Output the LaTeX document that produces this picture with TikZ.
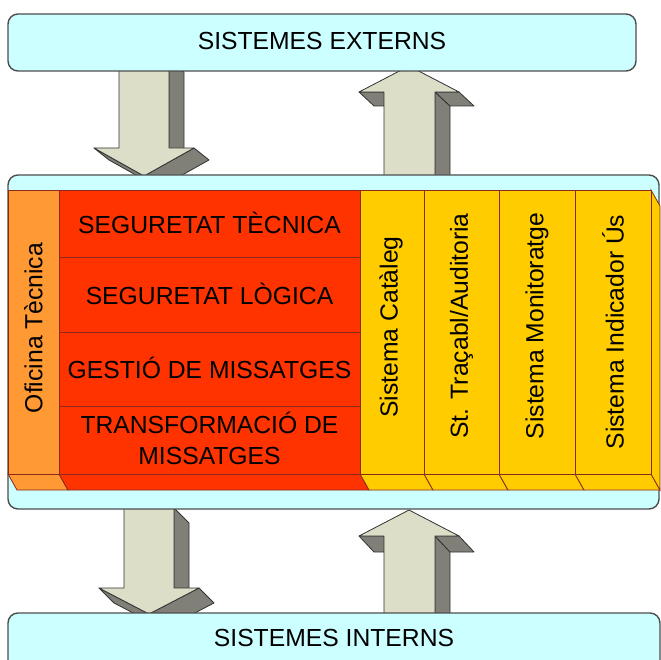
\documentclass[tikz,border=0pt]{standalone}
\usepackage{fontspec}
\setmainfont{Liberation Sans}
\definecolor{cyanbg}{HTML}{CCFFFF}
\definecolor{boxline}{HTML}{4D4D4D}
\definecolor{orng}{HTML}{FF9933}
\definecolor{redb}{HTML}{FF3300}
\definecolor{yel}{HTML}{FFCC00}
\definecolor{colline}{HTML}{8B2A1A}
\definecolor{arrfront}{HTML}{DCDEC8}
\definecolor{arrside}{HTML}{808078}
\definecolor{arrline}{HTML}{333333}
\begin{document}
\begin{tikzpicture}[x=1pt,y=-1pt,
  sysbox/.style={draw=boxline, line width=1.4pt, fill=cyanbg, rounded corners=10pt, inner sep=0pt},
  lbl/.style={font=\fontsize{24.7}{31}\selectfont, text=black, align=center, inner sep=0pt},
  cell/.style={draw=colline, line width=0.8pt},
  afront/.style={fill=arrfront, draw=arrline, line width=0.8pt, line join=round},
  aside/.style={fill=arrside, draw=arrline, line width=0.8pt, line join=round},
]
\useasboundingbox (0,0) rectangle (661,660);

% ---- top down arrow (external -> platform)
\draw[aside] (169,60) -- (184,72) -- (184,160) -- (169,148) -- cycle;
\draw[aside] (94,148) -- (109,160) -- (159,188) -- (144,176) -- cycle;
\draw[aside] (194,148) -- (209,160) -- (159,188) -- (144,176) -- cycle;
\draw[afront] (119,60) -- (169,60) -- (169,148) -- (194,148) -- (144,176) -- (94,148) -- (119,148) -- cycle;

% ---- top up arrow (platform -> external)
\draw[aside] (435,92) -- (450,106) -- (450,190) -- (435,190) -- cycle;
\draw[aside] (435,92) -- (459,92) -- (474,106) -- (450,106) -- cycle;
\draw[aside] (359,92) -- (384,92) -- (399,106) -- (374,106) -- cycle;
\draw[afront] (384,190) -- (384,92) -- (359,92) -- (409,66) -- (459,92) -- (435,92) -- (435,190) -- cycle;

% ---- bottom down arrow (platform -> internal)
\draw[aside] (174,508) -- (189,523) -- (189,603) -- (174,588) -- cycle;
\draw[aside] (99,588) -- (114,603) -- (164,629) -- (149,614) -- cycle;
\draw[aside] (199,588) -- (214,603) -- (164,629) -- (149,614) -- cycle;
\draw[afront] (124,508) -- (174,508) -- (174,588) -- (199,588) -- (149,614) -- (99,588) -- (124,588) -- cycle;

% ---- bottom up arrow (internal -> platform)
\draw[aside] (435,536) -- (450,552) -- (450,625) -- (435,625) -- cycle;
\draw[aside] (435,536) -- (459,536) -- (474,552) -- (450,552) -- cycle;
\draw[aside] (359,536) -- (384,536) -- (399,552) -- (374,552) -- cycle;
\draw[afront] (384,625) -- (384,536) -- (359,536) -- (409,510) -- (459,536) -- (435,536) -- (435,625) -- cycle;

% ---- system boxes
\node[sysbox, minimum width=628pt, minimum height=57pt] (ext) at (322,42.5) {};
\node[lbl] (extlbl) at (322,41.5) {SISTEMES EXTERNS};
\node[sysbox, minimum width=651pt, minimum height=334pt] (mid) at (333.5,342) {};
\node[sysbox, minimum width=652pt, minimum height=80pt] (int) at (334,653) {};
\node[lbl] (intlbl) at (334,637.5) {SISTEMES INTERNS};

% ---- bottom face of the block
\draw[cell, fill=orng] (8,474) -- (59,474) -- (68,490) -- (17,490) -- cycle;
\draw[cell, fill=redb] (59,474) -- (360,474) -- (369,490) -- (68,490) -- cycle;
\draw[cell, fill=yel] (360,474) -- (424,474) -- (433,490) -- (369,490) -- cycle;
\draw[cell, fill=yel] (424,474) -- (499,474) -- (508,490) -- (433,490) -- cycle;
\draw[cell, fill=yel] (499,474) -- (575,474) -- (584,490) -- (508,490) -- cycle;
\draw[cell, fill=yel] (575,474) -- (651,474) -- (660,490) -- (584,490) -- cycle;
% right face
\draw[cell, fill=yel] (651,190) -- (660,206) -- (660,490) -- (651,474) -- cycle;

% ---- front faces
\node[cell, fill=orng, minimum width=51pt, minimum height=284pt, inner sep=0pt] (ofi) at (33.5,332) {};
\node[lbl, rotate=90] (ofilbl) at (33.5,328) {Oficina Tècnica};

\node[cell, fill=redb, minimum width=301pt, minimum height=67pt, inner sep=0pt] (segt) at (209.5,223.5) {};
\node[lbl] (segtlbl) at (209.5,223) {SEGURETAT TÈCNICA};
\node[cell, fill=redb, minimum width=301pt, minimum height=75pt, inner sep=0pt] (segl) at (209.5,294.5) {};
\node[lbl] (segllbl) at (209.5,294) {SEGURETAT LÒGICA};
\node[cell, fill=redb, minimum width=301pt, minimum height=74pt, inner sep=0pt] (gest) at (209.5,369) {};
\node[lbl] (gestlbl) at (209.5,368) {GESTIÓ DE MISSATGES};
\node[cell, fill=redb, minimum width=301pt, minimum height=68pt, inner sep=0pt] (trans) at (209.5,440) {};
\node[lbl] (translbl) at (209.5,438) {TRANSFORMACIÓ DE\\MISSATGES};

\node[cell, fill=yel, minimum width=64pt, minimum height=284pt, inner sep=0pt] (cat) at (392,332) {};
\node[lbl, rotate=90] (catlbl) at (391,327) {Sistema Catàleg};
\node[cell, fill=yel, minimum width=75pt, minimum height=284pt, inner sep=0pt] (tra) at (461.5,332) {};
\node[lbl, rotate=90] (tralbl) at (461.5,326) {St. Traçabl/Auditoria};
\node[cell, fill=yel, minimum width=76pt, minimum height=284pt, inner sep=0pt] (mon) at (537,332) {};
\node[lbl, rotate=90] (monlbl) at (537,326) {Sistema Monitoratge};
\node[cell, fill=yel, minimum width=76pt, minimum height=284pt, inner sep=0pt] (ind) at (613,332) {};
\node[lbl, rotate=90] (indlbl) at (613,332) {Sistema Indicador Ús};
\end{tikzpicture}
\end{document}
